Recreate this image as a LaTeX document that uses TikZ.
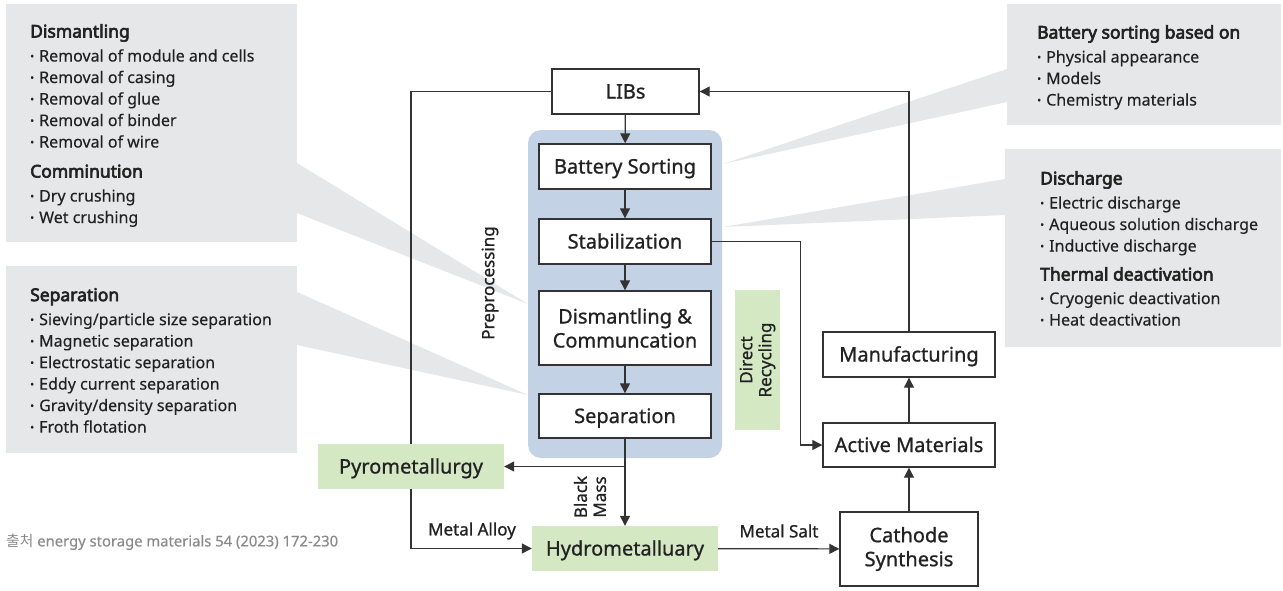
\documentclass[tikz,border=0pt]{standalone}
\usepackage{fontspec}
\usepackage{graphicx}
\setmainfont{Noto Sans}[FakeBold=0.3]
\newfontfamily\krfont{Noto Sans CJK KR}
\newfontfamily\medfont{Noto Sans}[FakeBold=0.9]
\newfontfamily\headfont{Noto Sans}[FakeBold=3.6]
\usetikzlibrary{arrows.meta}
\definecolor{calloutgray}{HTML}{E6E7E8}
\definecolor{prepblue}{HTML}{C4D2E5}
\definecolor{procgreen}{HTML}{D4E8C4}
\definecolor{linecol}{HTML}{333333}
\definecolor{inkcol}{HTML}{222222}
\definecolor{srcgray}{HTML}{8A8A8A}
\pgfdeclarelayer{bg}
\pgfdeclarelayer{lines}
\pgfsetlayers{bg,lines,main}
\newcommand\itm{\makebox[9pt][l]{\raisebox{1.6pt}{\scalebox{0.65}{•}}}}
\newcommand\hd[1]{{\headfont\fontsize{17.5}{21.5}\selectfont #1}}
\newcommand\firstline{\rule{0pt}{12.5pt}}
\tikzset{
  callout/.style={fill=calloutgray, draw=none},
  calltext/.style={anchor=north west, align=left, inner sep=0pt, text=inkcol,
    font=\fontsize{16}{21.5}\selectfont},
  procbox/.style={draw=linecol, line width=1.4pt, fill=white, inner sep=0pt,
    align=center, text=inkcol, font=\medfont\fontsize{20}{24}\selectfont},
  oneline/.style={text height=15pt, text depth=1pt},
  greenbox/.style={fill=procgreen, draw=none, inner sep=0pt, align=center,
    text=inkcol, font=\medfont\fontsize{20}{24}\selectfont},
  sidelabel/.style={inner sep=0pt, align=center, text=inkcol,
    font=\medfont\fontsize{17}{19}\selectfont},
  conn/.style={draw=linecol, line width=1.2pt, -{Triangle[length=10pt,width=10pt]}},
}
\begin{document}
\begin{tikzpicture}[x=1pt,y=-1pt]
\useasboundingbox (0,0) rectangle (1283,590);

% grey callout panels with their pointers
\begin{pgfonlayer}{bg}
  \fill[callout] (6,4) rectangle (297,242);
  \fill[callout] (297,163) -- (528,304) -- (297,213) -- cycle;
  \fill[callout] (6,266) rectangle (297,453);
  \fill[callout] (297,292) -- (528,395) -- (297,345) -- cycle;
  \fill[callout] (1007,4) rectangle (1281,125);
  \fill[callout] (1007,69) -- (723,164) -- (1007,102) -- cycle;
  \fill[callout] (1005,149) rectangle (1281,347);
  \fill[callout] (1005,179) -- (723,227) -- (1005,215) -- cycle;
  % preprocessing group
  \fill[prepblue, rounded corners=13pt] (528,130) rectangle (722,458);
\end{pgfonlayer}

% callout texts (first baseline 12.5pt below the anchor)
\node[calltext] (tdis) at (30,24) {\firstline\hd{Dismantling}\\[2.5pt]
  \itm Removal of module and cells\\
  \itm Removal of casing\\
  \itm Removal of glue\\
  \itm Removal of binder\\
  \itm Removal of wire\\[8.5pt]
  \hd{Comminution}\\[2.5pt]
  \itm Dry crushing\\
  \itm Wet crushing};
\node[calltext] (tsep) at (30,288) {\firstline\hd{Separation}\\[2.5pt]
  \itm Sieving/particle size separation\\
  \itm Magnetic separation\\
  \itm Electrostatic separation\\
  \itm Eddy current separation\\
  \itm Gravity/density separation\\
  \itm Froth flotation};
\node[calltext] (tsort) at (1037,25) {\firstline\hd{Battery sorting based on}\\[2.5pt]
  \itm Physical appearance\\
  \itm Models\\
  \itm Chemistry materials};
\node[calltext] (tdisch) at (1040,171) {\firstline\hd{Discharge}\\[2.5pt]
  \itm Electric discharge\\
  \itm Aqueous solution discharge\\
  \itm Inductive discharge\\[7.5pt]
  \hd{Thermal deactivation}\\[2pt]
  \itm Cryogenic deactivation\\
  \itm Heat deactivation};

% process boxes
\node[procbox, oneline, minimum width=147pt, minimum height=45pt] (libs) at (625.5,91.5) {LIBs};
\node[procbox, oneline, minimum width=172pt, minimum height=45pt] (sort) at (625,166.5) {Battery Sorting};
\node[procbox, oneline, minimum width=172pt, minimum height=45pt] (stab) at (625,241.5) {Stabilization};
\node[procbox, minimum width=172pt, minimum height=74pt] (dism) at (625,328) {Dismantling \&\\Communcation};
\node[procbox, oneline, minimum width=172pt, minimum height=44pt] (sep) at (625,416) {Separation};
\node[greenbox, oneline, minimum width=186pt, minimum height=45pt] (pyro) at (411,466.5) {Pyrometallurgy};
\node[greenbox, oneline, minimum width=186pt, minimum height=45pt] (hydro) at (625,548.5) {Hydrometalluary};
\node[greenbox, minimum width=45pt, minimum height=140pt] (direct) at (757.5,360) {};
\node[sidelabel, rotate=90] (directtxt) at (direct.center) {Direct\\Recycling};
\node[procbox, oneline, minimum width=172pt, minimum height=45pt] (manu) at (909,354.5) {Manufacturing};
\node[procbox, oneline, minimum width=172pt, minimum height=44pt] (act) at (909,445) {Active Materials};
\node[procbox, minimum width=138pt, minimum height=74pt] (cath) at (909,549) {Cathode\\Synthesis};

% labels
\node[sidelabel, rotate=90] (prep) at (490,283) {Preprocessing};
\node[sidelabel, rotate=90] (bmass) at (590,497) {Black\\Mass};
\node[sidelabel] (alloy) at (472,531) {Metal Alloy};
\node[sidelabel] (salt) at (779,531) {Metal Salt};
\node[anchor=west, inner sep=0pt, text=srcgray, font=\fontsize{14.8}{18}\selectfont] (src) at (6,542)
  {{\krfont 출처} energy storage materials 54 (2023) 172-230};

% connectors
\begin{pgfonlayer}{lines}
  \draw[conn] (libs) -- (sort);
  \draw[conn] (sort) -- (stab);
  \draw[conn] (stab) -- (dism);
  \draw[conn] (dism) -- (sep);
  \draw[conn] (sep) -- (hydro);
  \draw[conn] (sep.south |- pyro.east) -- (pyro.east);
  \draw[conn] (libs.west) -| (pyro.center) |- (hydro.west);
  \draw[conn] (stab.east) -- ++(89,0) |- (act.west);
  \draw[conn] (hydro) -- (cath);
  \draw[conn] (cath) -- (act);
  \draw[conn] (act) -- (manu);
  \draw[conn] (manu.north) |- (libs.east);
\end{pgfonlayer}
\end{tikzpicture}
\end{document}
